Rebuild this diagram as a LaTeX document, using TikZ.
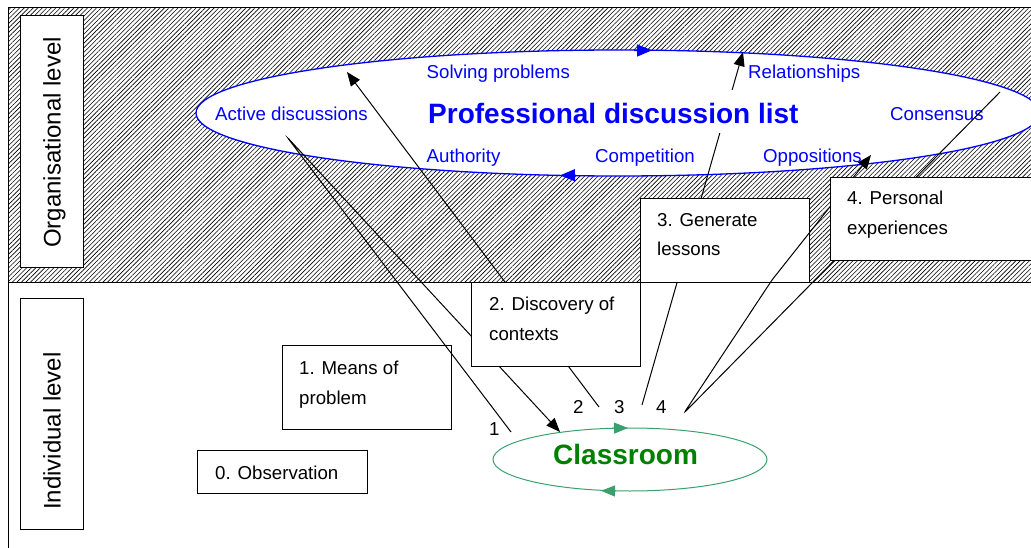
\documentclass[tikz,border=0pt]{standalone}
\usepackage{fontspec}
\setmainfont{Liberation Sans}
\usetikzlibrary{patterns.meta,arrows.meta,shapes.geometric}
\definecolor{pblue}{RGB}{0,0,255}
\definecolor{cgreen}{RGB}{0,128,0}
\definecolor{sgreen}{RGB}{60,160,110}
\begin{document}
\begin{tikzpicture}[x=1pt,y=-1pt,
  txt/.style={inner sep=0pt, font=\fontsize{18.67}{22}\selectfont, anchor=base west},
  btxt/.style={txt, text=pblue},
  sidetxt/.style={inner sep=0pt, font=\fontsize{24}{28}\selectfont, rotate=90, anchor=base west},
  sidebox/.style={draw, fill=white, line width=1pt, anchor=north west, inner sep=0pt, minimum width=63pt, minimum height=252pt},
  box/.style={draw, fill=white, line width=1pt, anchor=north west, inner sep=0pt},
  conn/.style={line width=1pt, draw=black},
  arr/.style={-{Triangle[length=14pt,width=11pt]}},
  barr/.style={draw=pblue, line width=1.3pt, -{Triangle[length=15pt,width=12pt]}},
  garr/.style={draw=sgreen, line width=1pt, -{Triangle[length=14pt,width=11pt]}}
]
\useasboundingbox (0,0) rectangle (1031,548);
\clip (0,0) rectangle (1031,548);
% frame and hatched organisational level
\fill[white] (0,0) rectangle (1031,548);
\fill[pattern={Lines[angle=45,distance=3.2pt,line width=0.6pt]}] (8,8) rectangle (1050,282);
\draw[line width=1pt] (8,8) rectangle (1050,570);
\draw[line width=1pt] (8,282) -- (1050,282);
% side labels
\node[sidebox] (orgbox) at (20,15) {};
\node[sidetxt] (orgtxt) at (60.5,248) {Organisational level};
\node[sidebox, minimum height=231pt] (indbox) at (20,298) {};
\node[sidetxt] (indtxt) at (60.5,510) {Individual level};
% professional discussion list ellipse
\node[draw=pblue, fill=white, line width=1.3pt, ellipse, inner sep=0pt,
      minimum width=844pt, minimum height=126pt] (pdl) at (618,113) {};
\coordinate (pa1) at (634,50.5);
\coordinate (pa2) at (652,50.3);
\coordinate (pb1) at (576,175.2);
\coordinate (pb2) at (560,175.4);
\draw[barr] (pa1) -- (pa2);
\draw[barr] (pb1) -- (pb2);
% classroom ellipse
\node[draw=sgreen, line width=1pt, ellipse, inner sep=0pt,
      minimum width=274pt, minimum height=63pt] (class) at (630,459.5) {};
\coordinate (ca1) at (612,428.1);
\coordinate (ca2) at (628,428);
\coordinate (cb1) at (616,491);
\coordinate (cb2) at (601,490.8);
\draw[garr] (ca1) -- (ca2);
\draw[garr] (cb1) -- (cb2);
\node[inner sep=0pt, anchor=base west, text=cgreen, font=\bfseries\fontsize{28}{32}\selectfont] (classtxt) at (553,464) {Classroom};
% texts in the ellipse
\node[btxt] (t-active) at (215,120.5) {Active discussions};
\node[btxt] (t-solve) at (426.5,79) {Solving problems};
\node[btxt] (t-rel) at (748,79) {Relationships};
\node[btxt] (t-cons) at (890,121) {Consensus};
\node[btxt] (t-auth) at (426.5,163) {Authority};
\node[btxt] (t-comp) at (595,163) {Competition};
\node[btxt] (t-opp) at (763,163) {Oppositions};
% box 1 and box 0
\node[box, minimum width=169pt, minimum height=84pt] (b1) at (282,345) {};
\node[box, minimum width=170pt, minimum height=43pt] (b0) at (197,450) {};
% connector coordinates
\coordinate (c1s) at (511,432);
\coordinate (c1t) at (287,137);
\coordinate (c1e) at (560,432);
\coordinate (c2s) at (599,407);
\coordinate (c2e) at (347,72);
\coordinate (c3s) at (642,405);
\coordinate (c3e) at (743,52);
\coordinate (c4s) at (1000,92);
\coordinate (c4t) at (684,413);
\coordinate (c4m) at (772,280);
\coordinate (c4e) at (871,155);
% connectors 1, 2, 3
\draw[conn, arr, rounded corners=3pt] (c1s) -- (c1t) -- (c1e);
\draw[conn, arr] (c2s) -- (c2e);
\draw[conn, arr] (c3s) -- (c3e);
% title of the list, hiding connector 3
\node[inner xsep=2pt, inner ysep=0pt, anchor=base west, text=pblue, fill=white,
      text height=34pt, text depth=9pt, font=\bfseries\fontsize{28}{32}\selectfont]
      (pdltxt) at (426,124) {Professional discussion list};
% boxes 2 and 3
\node[box, minimum width=169pt, minimum height=84pt] (b2) at (471,282) {};
\node[box, minimum width=169pt, minimum height=84pt] (b3) at (640,198) {};
% connector 4
\draw[conn, arr, rounded corners=3pt] (c4s) -- (c4t) -- (c4m) -- (c4e);
% box 4
\node[box, minimum width=230pt, minimum height=83pt] (b4) at (830,177) {};
% box texts
\node[txt] (t0) at (215,479) {0. Observation};
\node[txt] (t1a) at (299,374) {1. Means of};
\node[txt] (t1b) at (299,404) {problem};
\node[txt] (t2a) at (489,310.5) {2. Discovery of};
\node[txt] (t2b) at (489,340) {contexts};
\node[txt] (t3a) at (657,226.5) {3. Generate};
\node[txt] (t3b) at (657,256) {lessons};
\node[txt] (t4a) at (847,205) {4. Personal};
\node[txt] (t4b) at (847,234.5) {experiences};
% numbers
\node[txt] (n1) at (489,435) {1};
\node[txt] (n2) at (573,413) {2};
\node[txt] (n3) at (614,413) {3};
\node[txt] (n4) at (656,413) {4};
\end{tikzpicture}
\end{document}
